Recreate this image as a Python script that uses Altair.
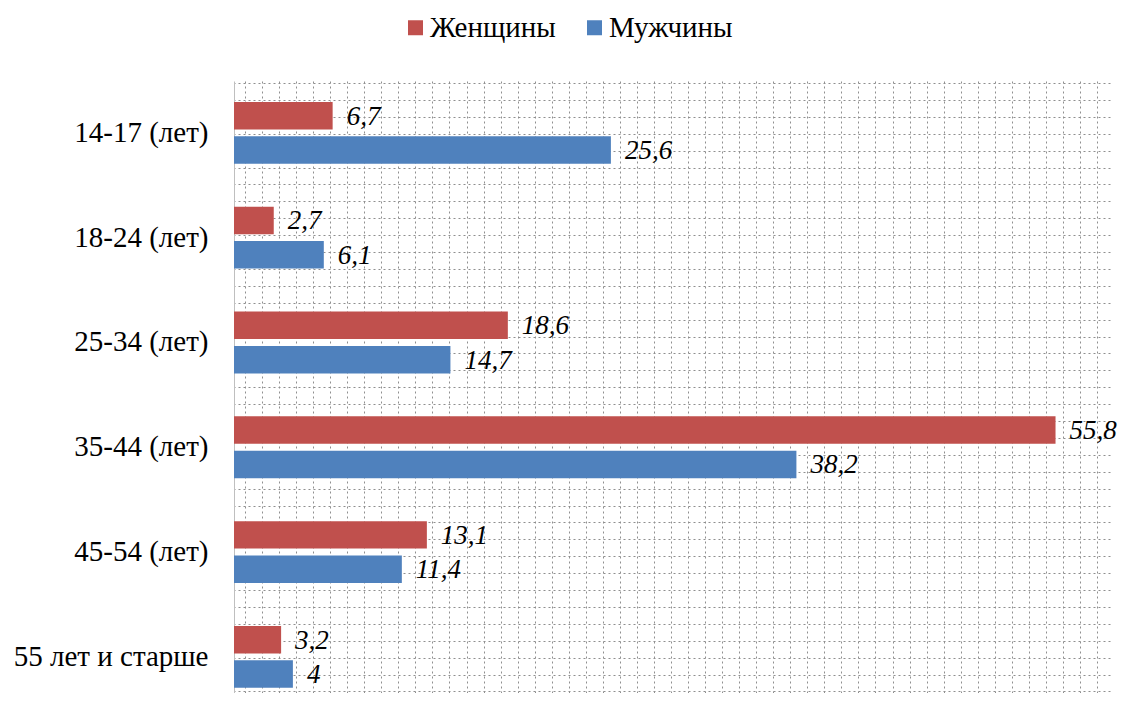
import altair as alt
import pandas as pd
import numpy as np

categories = ["14-17 (лет)", "18-24 (лет)", "25-34 (лет)", "35-44 (лет)", "45-54 (лет)", "55 лет и старше"]
series = ["Женщины", "Мужчины"]
women = [6.7, 2.7, 18.6, 55.8, 13.1, 3.2]
men = [25.6, 6.1, 14.7, 38.2, 11.4, 4.0]
colors = ["#C0504D", "#4F81BD"]

rows = []
for c, w, m in zip(categories, women, men):
    for s, v in ((series[0], w), (series[1], m)):
        lab = ("%g" % v).replace(".", ",")
        rows.append({"cat": c, "sex": s, "value": v, "label": lab})
df = pd.DataFrame(rows)

W, H = 876, 612
XMAX = 59.5
FONT = "Liberation Serif"

# dotted pattern grid (~17 px cells)
px_per_unit = W / XMAX
xgrid = [round((11 + 17.04 * k) / px_per_unit, 4) for k in range(52) if 11 + 17.04 * k <= W]
ygrid = [round(2 + 16.9 * k, 2) for k in range(37)]
GRID_COLOR = "#8f8f8f"
GRID_DASH = [2, 3]

grid = alt.Chart(pd.DataFrame({"g": [0]})).mark_point(opacity=0).encode(
    y=alt.Y("g:Q",
            scale=alt.Scale(domain=[0, H], reverse=True, nice=False, zero=False),
            axis=alt.Axis(values=ygrid, grid=True, labels=False, ticks=False, domain=False,
                          title=None, orient="right", gridDash=GRID_DASH, gridColor=GRID_COLOR,
                          gridWidth=1))
)

base = alt.Chart(df).encode(
    y=alt.Y("cat:N", sort=categories,
            scale=alt.Scale(paddingInner=0.41, paddingOuter=0.125, align=0.8),
            axis=alt.Axis(title=None, orient="left", ticks=False, labelPadding=26,
                          labelFont=FONT, labelFontSize=29, labelColor="black",
                          domain=True, domainColor="#bfbfbf", labelLimit=400)),
    yOffset=alt.YOffset("sex:N", sort=series, scale=alt.Scale(paddingInner=0.2)),
    x=alt.X("value:Q", scale=alt.Scale(domain=[0, XMAX], nice=False),
            axis=alt.Axis(values=xgrid, grid=True, labels=False, ticks=False, domain=False,
                          title=None, gridDash=GRID_DASH, gridColor=GRID_COLOR, gridWidth=1)),
)

bars = base.mark_bar().encode(
    color=alt.Color("sex:N", sort=series,
                    scale=alt.Scale(domain=series, range=colors),
                    legend=alt.Legend(title=None, orient="none", direction="horizontal",
                                      legendX=167, legendY=-68, symbolType="square",
                                      symbolSize=225, symbolStrokeWidth=0,
                                      labelFont=FONT, labelFontSize=29, labelColor="black",
                                      labelOffset=0, columnPadding=24))
)

texts = base.mark_text(align="left", baseline="middle", dx=14, dy=1, font=FONT,
                       fontSize=27, fontStyle="italic", color="black").encode(
    text="label:N"
)

chart = alt.layer(grid, alt.layer(bars, texts)).resolve_scale(y="independent").properties(
    width=W, height=H,
    autosize=alt.AutoSizeParams(type="none"),
    padding={"left": 226, "top": 73, "right": 8, "bottom": 0},
).configure_view(stroke=None)

chart.save("out.html", embed_options={"renderer": "svg", "actions": False})
